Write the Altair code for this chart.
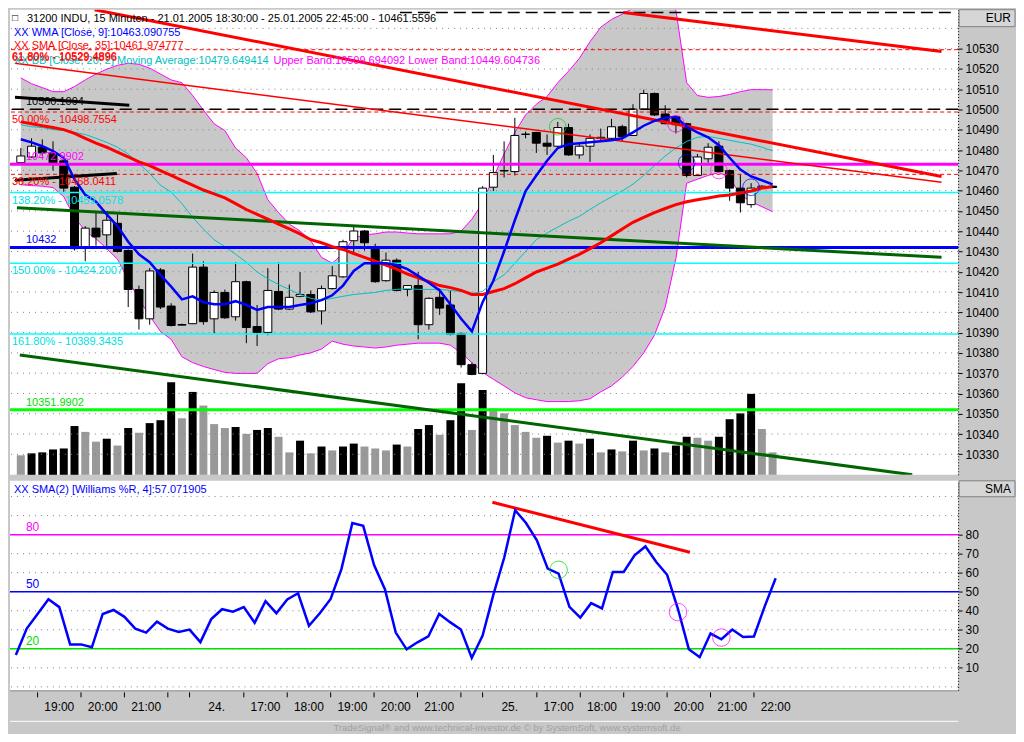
import altair as alt
import pandas as pd

# ------------------------------------------------------------------ data
# 15-minute bars, 21.01.2005 18:30 ... 25.01.2005 22:45 (bar index 0..70)
bar_open = [10473.75, 10476.6, 10481.4, 10478.6, 10474.7, 10461.7, 10432.4, 10441.5, 10438.2, 10443.9,
            10430.5, 10411.25, 10396.8, 10420.9, 10403.1, 10394.0, 10394.4, 10422.3, 10396.8, 10409.8,
            10397.8, 10415.1, 10393.0, 10390.1, 10410.3, 10401.6, 10407.9, 10408.8, 10400.7, 10411.7,
            10417.5, 10435.3, 10440.1, 10432.4, 10415.6, 10425.7, 10411.25, 10413.2, 10393.9, 10407.4,
            10403.6, 10389.6, 10374.2, 10369.9, 10461.7, 10469.7, 10469.4, 10487.7, 10488.7, 10483.4,
            10481.9, 10491.1, 10477.6, 10481.9, 10485.8, 10485.8, 10491.5, 10487.2, 10500.2, 10507.9,
            10497.8, 10496.35, 10493.0, 10467.5, 10475.7, 10481.9, 10469.9, 10461.25, 10453.1, 10461.3,
            10462.2]
bar_high = [10481.0, 10485.8, 10485.3, 10484.3, 10476.2, 10462.2, 10442.5, 10449.7, 10449.2, 10448.3,
            10431.0, 10413.2, 10421.8, 10421.8, 10404.5, 10394.4, 10429.0, 10425.2, 10410.8, 10411.25,
            10424.7, 10415.6, 10403.6, 10421.8, 10424.7, 10413.7, 10419.9, 10410.8, 10413.2, 10422.8,
            10435.8, 10443.0, 10440.6, 10433.8, 10429.5, 10426.6, 10413.4, 10419.9, 10407.4, 10411.7,
            10410.8, 10390.0, 10375.2, 10462.2, 10477.6, 10484.3, 10495.9, 10489.1, 10489.0, 10487.7,
            10493.9, 10493.0, 10482.9, 10487.7, 10490.6, 10495.4, 10492.5, 10502.6, 10509.8, 10508.4,
            10502.1, 10496.8, 10493.5, 10478.1, 10483.4, 10484.3, 10470.4, 10468.0, 10463.7, 10462.7,
            10462.6]
bar_low = [10473.3, 10476.2, 10477.1, 10469.9, 10458.8, 10430.5, 10425.2, 10432.9, 10431.0, 10429.5,
           10402.6, 10391.5, 10393.9, 10401.6, 10393.0, 10393.5, 10394.2, 10393.9, 10389.6, 10396.8,
           10395.9, 10384.8, 10383.4, 10388.7, 10401.1, 10401.1, 10407.4, 10399.7, 10394.0, 10411.25,
           10417.0, 10429.0, 10430.5, 10414.6, 10415.1, 10410.3, 10407.9, 10386.7, 10391.5, 10398.75,
           10388.6, 10372.8, 10369.0, 10369.4, 10459.8, 10466.5, 10467.5, 10485.8, 10478.6, 10477.6,
           10481.5, 10477.2, 10475.7, 10474.2, 10484.3, 10485.6, 10484.3, 10487.0, 10499.9, 10496.8,
           10492.7, 10488.2, 10466.5, 10467.3, 10473.75, 10469.2, 10455.0, 10449.2, 10451.6, 10461.0,
           10461.2]
bar_close = [10477.1, 10481.9, 10478.6, 10473.75, 10461.25, 10431.4, 10441.5, 10437.2, 10445.4, 10430.0,
             10411.25, 10396.8, 10420.4, 10402.6, 10393.5, 10393.7, 10422.3, 10395.4, 10409.8, 10397.3,
             10415.1, 10392.5, 10390.1, 10410.8, 10401.6, 10407.4, 10408.8, 10400.2, 10411.7, 10418.0,
             10434.8, 10440.1, 10434.3, 10415.1, 10425.7, 10410.8, 10413.2, 10393.9, 10406.9, 10402.1,
             10389.1, 10374.2, 10369.4, 10461.25, 10468.9, 10469.9, 10487.2, 10487.9, 10483.4, 10481.9,
             10491.1, 10477.6, 10481.9, 10485.8, 10486.3, 10491.5, 10486.7, 10500.2, 10507.9, 10497.3,
             10493.0, 10492.5, 10467.5, 10476.6, 10481.4, 10469.4, 10461.25, 10454.0, 10461.25, 10462.2,
             10461.56]
volume = [20, 22, 23, 26, 27, 50, 44, 34, 37, 30, 48, 43, 53, 56, 95, 58, 85, 71, 52, 48,
          49, 42, 46, 48, 39, 23, 35, 22, 29, 25, 29, 32, 29, 27, 25, 31, 29, 47, 51, 41,
          56, 94, 46, 87, 68, 63, 51, 44, 38, 40, 33, 35, 32, 37, 23, 26, 24, 35, 25, 27,
          23, 30, 39, 38, 35, 39, 57, 63, 83, 47, 23]
wma_9 = [10485.3, 10483.8, 10481.9, 10479.5, 10476.2, 10465.6, 10457.9, 10454.5, 10448.3, 10442.5,
         10434.8, 10428.6, 10424.7, 10418.5, 10412.7, 10406.4, 10407.9, 10405.0, 10404.0, 10404.0,
         10405.5, 10403.6, 10401.2, 10402.6, 10402.6, 10402.6, 10403.6, 10404.5, 10406.0, 10408.4,
         10413.2, 10420.4, 10424.2, 10424.2, 10424.2, 10423.3, 10421.3, 10418.0, 10414.6, 10410.8,
         10404.0, 10396.8, 10390.6, 10405.0, 10415.6, 10430.0, 10445.4, 10459.8, 10467.5, 10474.7,
         10481.0, 10482.9, 10483.4, 10483.8, 10484.3, 10484.8, 10485.8, 10488.7, 10492.0, 10494.4,
         10495.9, 10496.3, 10491.5, 10488.7, 10486.3, 10482.4, 10476.2, 10470.4, 10467.0, 10465.1,
         10463.09]
sma_35 = [10493.9, 10493.0, 10492.0, 10491.1, 10490.1, 10488.2, 10485.8, 10483.4, 10481.4, 10479.0,
          10476.6, 10474.2, 10472.3, 10469.9, 10467.5, 10465.1, 10462.7, 10460.3, 10458.4, 10456.4,
          10453.6, 10450.7, 10448.3, 10445.9, 10443.5, 10441.1, 10438.7, 10435.8, 10434.3, 10432.4,
          10431.0, 10429.0, 10427.1, 10425.2, 10423.3, 10421.3, 10418.9, 10417.0, 10415.1, 10413.2,
          10412.2, 10410.8, 10408.8, 10408.8, 10410.3, 10411.7, 10414.1, 10417.0, 10419.9, 10421.8,
          10423.8, 10426.2, 10428.6, 10431.4, 10434.3, 10437.7, 10441.1, 10444.4, 10446.8, 10449.2,
          10451.2, 10453.1, 10454.5, 10455.5, 10456.4, 10457.4, 10457.9, 10458.8, 10459.8, 10461.3,
          10461.97]
bb_mid = [10492.5, 10491.5, 10491.1, 10490.1, 10489.6, 10488.7, 10487.7, 10485.8, 10483.8, 10481.4,
          10478.1, 10473.3, 10468.5, 10462.7, 10459.3, 10453.6, 10446.8, 10441.1, 10435.8, 10432.4,
          10428.6, 10424.7, 10419.9, 10416.5, 10413.7, 10411.3, 10408.8, 10406.9, 10406.0, 10406.9,
          10407.9, 10408.8, 10409.3, 10409.8, 10410.8, 10411.3, 10411.7, 10411.3, 10411.3, 10411.3,
          10410.8, 10410.3, 10409.3, 10410.3, 10415.1, 10418.5, 10424.2, 10430.0, 10435.8, 10439.1,
          10442.0, 10444.9, 10447.3, 10450.7, 10454.0, 10456.9, 10459.8, 10463.2, 10467.5, 10472.3,
          10477.1, 10481.0, 10484.3, 10486.3, 10486.7, 10485.8, 10484.8, 10483.8, 10482.9, 10481.4,
          10479.65]
bb_upper = [10515.6, 10512.7, 10510.8, 10508.8, 10508.8, 10511.3, 10514.6, 10517.5, 10519.9, 10521.8,
            10522.8, 10522.3, 10520.4, 10517.5, 10514.6, 10513.2, 10506.9, 10499.7, 10493.0, 10489.6,
            10481.0, 10476.2, 10468.5, 10455.5, 10449.2, 10443.5, 10440.1, 10435.3, 10427.1, 10424.2,
            10429.0, 10436.7, 10438.2, 10438.7, 10439.6, 10439.6, 10439.1, 10438.7, 10438.7, 10438.7,
            10438.7, 10440.1, 10445.9, 10454.0, 10466.5, 10478.1, 10488.7, 10497.3, 10502.6, 10506.4,
            10513.2, 10518.9, 10525.2, 10533.4, 10540.6, 10544.4, 10547.0, 10550.0, 10552.0, 10553.0,
            10552.0, 10549.0, 10513.2, 10506.9, 10506.0, 10506.4, 10507.4, 10508.8, 10509.8, 10509.8,
            10509.69]
bb_lower = [10462.9, 10462.5, 10462.2, 10461.5, 10457.0, 10446.8, 10440.1, 10436.3, 10431.4, 10426.2,
            10416.1, 10406.4, 10398.3, 10390.6, 10386.7, 10378.1, 10375.2, 10373.3, 10371.8, 10370.4,
            10369.9, 10369.9, 10369.9, 10374.7, 10377.1, 10377.6, 10379.0, 10380.0, 10381.9, 10385.8,
            10384.3, 10383.4, 10382.9, 10382.4, 10382.9, 10383.8, 10384.3, 10384.8, 10384.8, 10384.8,
            10383.8, 10380.0, 10375.2, 10370.4, 10367.0, 10363.7, 10360.3, 10357.9, 10356.9, 10356.0,
            10356.0, 10356.0, 10356.4, 10357.4, 10360.8, 10363.7, 10368.0, 10373.3, 10380.0, 10388.7,
            10402.6, 10426.6, 10463.7, 10465.6, 10467.5, 10468.9, 10466.5, 10457.9, 10454.5, 10452.1,
            10449.60]
williams_sma = [16.7, 30.6, 38.3, 46.0, 41.9, 22.3, 22.3, 20.8, 38.3, 40.4,
                36.8, 30.6, 28.5, 34.3, 30.6, 28.9, 30.1, 23.5, 35.6, 40.8,
                39.5, 41.9, 33.7, 45.0, 38.7, 45.9, 49.2, 32.1, 38.7, 46.2,
                62.0, 86.1, 84.6, 64.0, 51.3, 28.5, 19.7, 23.4, 26.5, 38.3,
                34.0, 30.1, 15.2, 27.0, 48.6, 68.1, 92.8, 86.1, 77.0, 62.1,
                59.5, 42.0, 36.4, 44.0, 41.2, 60.4, 60.4, 69.1, 73.8, 65.6,
                58.9, 40.9, 19.8, 15.6, 28.0, 25.0, 30.1, 26.2, 26.5, 42.4,
                57.1]

# time axis: bar index of each hour tick and the label of the hour that follows it
tick_bars = [2, 6, 10, 14, 16, 21, 25, 29, 33, 37, 41, 43, 48, 52, 56, 60, 64, 68]
tick_labels = ["19:00", "20:00", "21:00", "", "24.", "17:00", "18:00", "19:00", "20:00", "21:00",
               "", "25.", "17:00", "18:00", "19:00", "20:00", "21:00", "22:00"]

# drawing tools (levels and trend lines)
fib_values = [10529.4896, 10498.7554, 10468.0411]
fib_names = ["61.80% - 10529.4896", "50.00% - 10498.7554", "38.20% - 10468.0411"]
ext_values = [10459.0578, 10424.2007, 10389.3435]
ext_names = ["138.20% - 10459.0578", "150.00% - 10424.2007", "161.80% - 10389.3435"]
resist_value = 10500.1094
top_dash_value = 10547.8
magenta_value = 10472.9902
blue_value = 10432.0
green_value = 10351.9902

trend_red_a = [(6.87, 10549.2), (85.73, 10467.0)]
trend_red_b = [(56.1, 10547.8), (85.73, 10528.6)]
trend_red_thin = [(-0.54, 10522.8), (85.73, 10464.1)]
trend_green_a = [(-0.36, 10451.6), (85.73, 10427.1)]
trend_green_b = [(-0.09, 10379.0), (83.0, 10319.9)]
trend_black_a = [(-0.54, 10506.0), (10.1, 10502.1)]
trend_black_b = [(-0.54, 10465.1), (8.94, 10468.5)]
top_dash_from = 35.3

circle_bar = [50, 61, 62, 65, 68]
circle_price = [10491.5, 10493.0, 10473.75, 10469.9, 10461.7]
circle_color = ["#00d000", "#ff00ff", "#0000ff", "#ff00ff", "#0000ff"]

osc_levels = [80, 50, 20]
osc_level_color = ["#ff00ff", "#0000ff", "#00e000"]
osc_trend = [(43.9, 97.0), (62.1, 70.7)]
osc_circle_bar = [50, 61, 65]
osc_circle_val = [61.5, 39.3, 25.9]
osc_circle_color = ["#00d000", "#ff00ff", "#ff00ff"]

# ------------------------------------------------------------------ layout
W, H1, H2 = 950, 466, 210
FONT = "Liberation Sans, Arial, sans-serif"
TS = 11  # text size of the chart annotations
xs = alt.Scale(domain=[-0.542, 86.81], nice=False, zero=False)
ps = alt.Scale(domain=[10319.9, 10549.2], nice=False, zero=False)
os_ = alt.Scale(domain=[-1.85, 108.3], nice=False, zero=False)

def mk_axis(vals):
    return alt.Axis(orient="right", values=vals, title=None, grid=False, tickSize=4, format="d",
                    tickColor="black", labelFontSize=12, labelFont=FONT, labelColor="black",
                    domainColor="black", domainDash=[1, 2], labelPadding=3)

price_axis = mk_axis(list(range(10330, 10531, 10)))
osc_axis = mk_axis(list(range(10, 81, 10)))

def xq(f="i"):
    return alt.X(f"{f}:Q", scale=xs, axis=None)

def yp(f):
    return alt.Y(f"{f}:Q", scale=ps, axis=price_axis)

def yo(f):
    return alt.Y(f"{f}:Q", scale=os_, axis=osc_axis)

def one():
    return pd.DataFrame({"a": [0]})

def hline(value, color, width, yfun, dash=None):
    kw = dict(color=color, strokeWidth=width)
    if dash:
        kw["strokeDash"] = dash
    return alt.Chart(pd.DataFrame({"lvl": [value]})).mark_rule(**kw).encode(y=yfun("lvl"))

def seg(pts, color, width, yfun, dash=None):
    df = pd.DataFrame({"i": [p[0] for p in pts], "p": [p[1] for p in pts]})
    kw = dict(color=color, strokeWidth=width, clip=True)
    if dash:
        kw["strokeDash"] = dash
    return alt.Chart(df).mark_line(**kw).encode(x=xq(), y=yfun("p"))

def ptext(t, x, y, color, size=TS, align="left"):
    return alt.Chart(pd.DataFrame({"t": [t]})).mark_text(
        align=align, baseline="middle", font=FONT, fontSize=size, color=color
    ).encode(x=alt.value(x), y=alt.value(y), text="t:N")

def header(label, h):
    box = alt.Chart(one()).mark_rect(fill="#d6d6d6", stroke="#808080", strokeWidth=1).encode(
        x=alt.value(W + 1), x2=alt.value(W + 57), y=alt.value(0), y2=alt.value(h))
    return [box, ptext(label, W + 53, h / 2, "black", 12, "right")]

idx = list(range(len(bar_close)))
ohlc = pd.DataFrame({"i": idx, "o": bar_open, "h": bar_high, "l": bar_low, "c": bar_close})
ohlc["fill"] = ["white" if c >= o else "black" for o, c in zip(bar_open, bar_close)]
vol = pd.DataFrame({"i": idx, "v": volume})
vol["col"] = ["#000000" if k > 0 and volume[k] > volume[k - 1] else "#999999" for k in idx]
ind = pd.DataFrame({"i": idx, "wma": wma_9, "sma": sma_35, "mid": bb_mid,
                    "up": bb_upper, "lo": bb_lower, "wr": williams_sma})

# ------------------------------------------------------------------ upper panel
band_fill = alt.Chart(ind).mark_area(color="#c8c8c8", clip=True).encode(x=xq(), y=yp("up"), y2="lo")
grid_p = alt.Chart(pd.DataFrame({"g": list(range(10330, 10541, 10))})).mark_rule(
    color="#808080", strokeDash=[1, 5], strokeWidth=1).encode(y=yp("g"))
band_up = alt.Chart(ind).mark_line(color="#ff00ff", strokeWidth=1, clip=True).encode(x=xq(), y=yp("up"))
band_lo = alt.Chart(ind).mark_line(color="#ff00ff", strokeWidth=1, clip=True).encode(x=xq(), y=yp("lo"))
band_mid = alt.Chart(ind).mark_line(color="#00c0c0", strokeWidth=1, clip=True).encode(x=xq(), y=yp("mid"))
wicks = alt.Chart(ohlc).mark_rule(color="black", strokeWidth=1).encode(x=xq(), y=yp("l"), y2="h")
bodies = alt.Chart(ohlc).mark_bar(size=8, stroke="black", strokeWidth=1).encode(
    x=xq(), y=yp("o"), y2="c", fill=alt.Fill("fill:N", scale=None))
wma_line = alt.Chart(ind).mark_line(color="#0000ff", strokeWidth=2.5).encode(x=xq(), y=yp("wma"))
sma_line = alt.Chart(ind).mark_line(color="#ff0000", strokeWidth=3).encode(x=xq(), y=yp("sma"))
vol_bars = alt.Chart(vol).mark_bar(size=8).encode(
    x=xq(), y=alt.Y("v:Q", scale=alt.Scale(domain=[0, 477]), axis=None),
    color=alt.Color("col:N", scale=None))

levels = []
for v in fib_values:
    levels.append(hline(v, "#ff0000", 1, yp, dash=[4, 3]))
for v in ext_values:
    levels.append(hline(v, "#00ffff", 1.5, yp))
levels.append(hline(resist_value, "black", 1.5, yp, dash=[12, 6]))
levels.append(seg([(top_dash_from, top_dash_value), (86.81, top_dash_value)], "black", 1.5, yp, dash=[12, 6]))
levels.append(hline(magenta_value, "#ff00ff", 3, yp))
levels.append(hline(blue_value, "#0000ff", 3, yp))
levels.append(hline(green_value, "#00ff00", 3, yp))

trends = [
    seg(trend_green_a, "#006400", 3, yp),
    seg(trend_green_b, "#006400", 3, yp),
    seg(trend_red_thin, "#ff0000", 1.5, yp),
    seg(trend_red_a, "#ff0000", 3, yp),
    seg(trend_red_b, "#ff0000", 3, yp),
    seg(trend_black_a, "black", 3, yp),
    seg(trend_black_b, "black", 3, yp),
]

circ = alt.Chart(pd.DataFrame({"i": circle_bar, "p": circle_price, "c": circle_color})).mark_point(
    shape="circle", size=280, filled=False, strokeWidth=1).encode(
    x=xq(), y=yp("p"), color=alt.Color("c:N", scale=None))

below = pd.DataFrame({"t": fib_names + ext_names, "lvl": fib_values + ext_values,
                      "col": ["#ff0000"] * 3 + ["#00e0e0"] * 3})
above = pd.DataFrame({"t": ["10500.1094", "10472.9902", "10432", "10351.9902"],
                      "lvl": [resist_value, magenta_value, blue_value, green_value],
                      "col": ["black", "#ff00ff", "#0000ff", "#00e000"]})
lab_below = alt.Chart(below).mark_text(align="left", baseline="middle", dy=8, font=FONT, fontSize=TS).encode(
    x=alt.value(2), y=yp("lvl"), text="t:N", color=alt.Color("col:N", scale=None))
lab_above = alt.Chart(above).mark_text(align="left", baseline="middle", dy=-7, font=FONT, fontSize=TS).encode(
    x=alt.value(16), y=yp("lvl"), text="t:N", color=alt.Color("col:N", scale=None))

legend = [
    ptext("\u25a1", 2, 8, "black", 10),
    ptext("31200  INDU, 15 Minuten - 21.01.2005 18:30:00 - 25.01.2005 22:45:00 - 10461.5596", 17, 9, "black"),
    ptext("XX WMA [Close, 9]:10463.090755", 4, 23, "#0000ff"),
    ptext("XX SMA [Close, 35]:10461.974777", 4, 36, "#ff0000"),
    ptext("XX BB [Close, 20, 2] Moving Average:10479.649414", 4, 51, "#00c0c0"),
    ptext("Upper Band:10509.694092 Lower Band:10449.604736", 264, 51, "#ff00ff"),
    ptext("61.80% - 10529.4896", 2, 47, "#ff0000"),
]

price_group = alt.layer(
    band_fill, grid_p, band_up, band_lo, wicks, bodies, band_mid,
    *levels, *trends, sma_line, wma_line, circ, lab_below, lab_above, *legend, *header("EUR", 17)
)
upper = alt.layer(vol_bars, price_group).resolve_scale(y="independent").properties(width=W, height=H1)

# ------------------------------------------------------------------ lower panel
grid_o = alt.Chart(pd.DataFrame({"g": list(range(0, 101, 10))})).mark_rule(
    color="#808080", strokeDash=[1, 5], strokeWidth=1).encode(y=yo("g"))
osc_lines = [hline(v, c, 1.5, yo) for v, c in zip(osc_levels, osc_level_color)]
osc_line = alt.Chart(ind).mark_line(color="#0000ff", strokeWidth=2.5).encode(x=xq(), y=yo("wr"))
osc_tr = seg(osc_trend, "#ff0000", 3, yo)
osc_circ = alt.Chart(pd.DataFrame({"i": osc_circle_bar, "p": osc_circle_val, "c": osc_circle_color})).mark_point(
    shape="circle", size=310, filled=False, strokeWidth=1).encode(
    x=xq(), y=yo("p"), color=alt.Color("c:N", scale=None))
osc_lab = alt.Chart(pd.DataFrame({"t": [str(v) for v in osc_levels], "lvl": osc_levels,
                                  "col": osc_level_color})).mark_text(
    align="left", baseline="middle", dy=-8, font=FONT, fontSize=12).encode(
    x=alt.value(16), y=yo("lvl"), text="t:N", color=alt.Color("col:N", scale=None))
osc_title = ptext("XX SMA(2) [Williams %R, 4]:57.071905", 4, 9, "#0000ff")

# time axis strip drawn under the lower panel
ticks = alt.Chart(pd.DataFrame({"i": tick_bars})).mark_rule(color="black", strokeWidth=1).encode(
    x=xq(), y=alt.value(H2 + 2), y2=alt.value(H2 + 7))
nxt = tick_bars[1:] + [tick_bars[-1] + 4]
lab_rows = [((a + b) / 2, t) for a, b, t in zip(tick_bars, nxt, tick_labels) if t]
tlabels = alt.Chart(pd.DataFrame({"i": [r[0] for r in lab_rows], "t": [r[1] for r in lab_rows]})).mark_text(
    baseline="middle", font=FONT, fontSize=12, color="black").encode(
    x=xq(), y=alt.value(H2 + 17), text="t:N")
strip_top = alt.Chart(one()).mark_rule(color="#909090", strokeWidth=1).encode(
    x=alt.value(0), x2=alt.value(W), y=alt.value(H2 + 0.5))
strip_line = alt.Chart(one()).mark_rule(color="white", strokeWidth=1).encode(
    x=alt.value(0), x2=alt.value(W), y=alt.value(H2 + 31))
footer = ptext("TradeSignal\u00ae and www.technical-investor.de \u00a9 by  SystemSoft, www.systemsoft.de",
               498, H2 + 38, "#a0a0a0", 9.5, "center")

lower = alt.layer(
    grid_o, *osc_lines, osc_tr, osc_line, osc_circ, osc_lab, osc_title, *header("SMA", 16),
    strip_top, ticks, tlabels, strip_line, footer
).properties(width=W, height=H2)

chart = alt.vconcat(upper, lower, spacing=5).properties(
    background="#c8c8c8", padding=0
).configure_view(fill="white", stroke=None)

chart.save("out.html", embed_options={"renderer": "svg", "actions": False})
